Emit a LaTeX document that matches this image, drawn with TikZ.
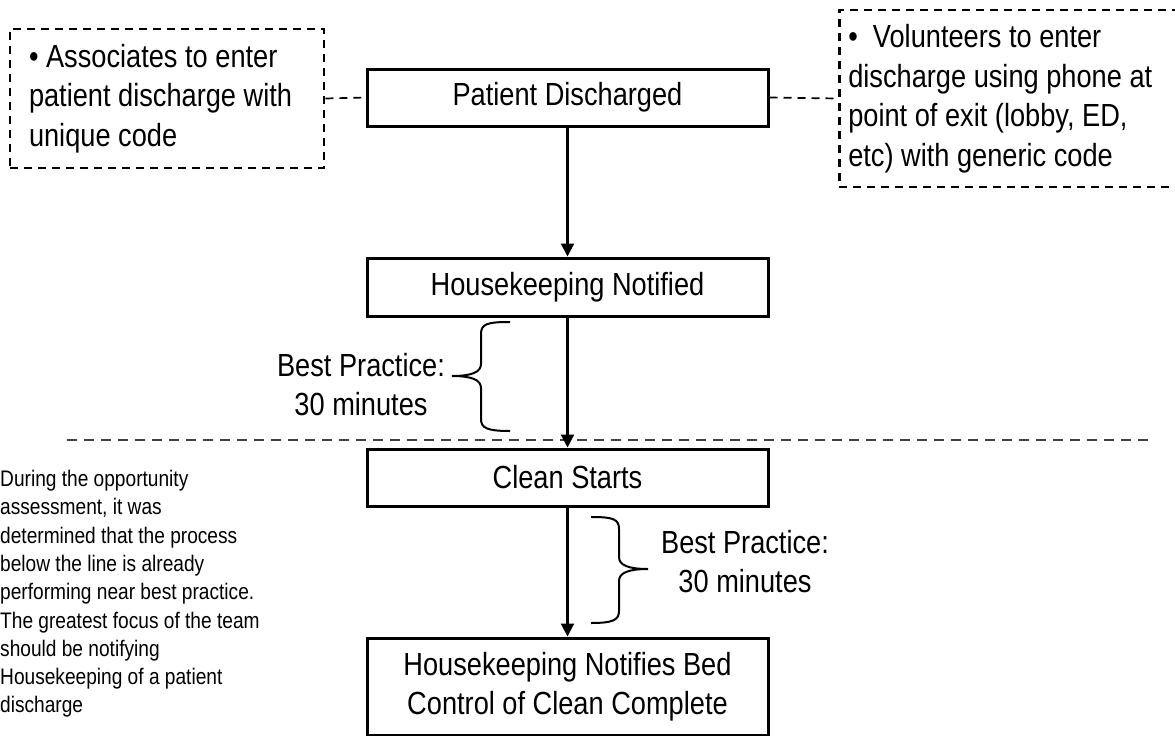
\documentclass[tikz,border=0pt]{standalone}
\usepackage{fontspec}
\setmainfont{Liberation Sans}[FakeStretch=0.85]
\usetikzlibrary{arrows.meta}
\protected\def\tightspace{\spaceskip=\fontdimen2\font\relax}

\begin{document}
\begin{tikzpicture}[x=1pt, y=-1pt,
  process/.style={draw, line width=3pt, minimum width=401pt, inner sep=0pt,
    align=center, font=\fontsize{32}{39}\selectfont},
  option/.style={draw, line width=2.6pt, dash pattern=on 8pt off 6pt,
    align=left, font=\fontsize{32}{39.5}\selectfont,
    execute at begin node=\tightspace},
  link/.style={line width=1.7pt, dash pattern=on 8pt off 6pt},
  flow/.style={line width=2.1pt, -{Triangle[length=13pt,width=13pt]}},
  bracket/.style={line width=2pt},
  divider/.style={line width=1.8pt, black!75, dash pattern=on 10pt off 7pt},
  note/.style={anchor=north west, inner sep=0pt, text width=290pt, align=left,
    font=\fontsize{22.5}{28.3}\selectfont, execute at begin node=\tightspace}]

\useasboundingbox (0,0) rectangle (1175,736);
\clip (0,0) rectangle (1175,736);

% Process steps
\node[process, minimum height=57pt] (disch) at (567.5,97.5) {Patient Discharged};
\node[process, minimum height=58pt] (hknote) at (567.5,287) {Housekeeping Notified};
\node[process, minimum height=57pt] (cleanst) at (567.5,477.5) {Clean Starts};
\node[process, minimum height=97pt] (bedctl) at (567.5,686.5) {Housekeeping Notifies Bed\\Control of Clean Complete};

% Ways to enter the discharge
\node[option, minimum width=314pt, minimum height=139pt, text width=276pt,
  inner xsep=19pt] (assoc) at (167,98.5)
  {\textbullet\ Associates to enter\\patient discharge with\\unique code};
\node[option, anchor=west, minimum height=177pt, text width=330pt,
  inner xsep=9pt] (volun) at (838,98.5)
  {\textbullet\ \ Volunteers to enter\\discharge using phone at\\point of exit (lobby, ED,\\etc) with generic code};

% Best practice times
\node[align=center, font=\fontsize{32}{39}\selectfont] (bpone) at (361,384.5) {Best Practice:\\30 minutes};
\node[align=center, font=\fontsize{32}{39}\selectfont] (bptwo) at (745,562) {Best Practice:\\30 minutes};

% Braces
\draw[bracket] (510,322) .. controls (487,322) and (481,324) .. (481,334) -- (481,364)
  .. controls (481,372) and (472,376) .. (452,376)
  .. controls (472,376) and (481,380) .. (481,388) -- (481,419)
  .. controls (481,428) and (487,431) .. (510,431);
\draw[bracket] (591,517) .. controls (613,517) and (619,519) .. (619,529) -- (619,557)
  .. controls (619,565) and (628,569) .. (648,569)
  .. controls (628,569) and (619,573) .. (619,581) -- (619,611)
  .. controls (619,620) and (613,623) .. (591,623);

% Dividing line
\coordinate (sepL) at (67,440);
\coordinate (sepR) at (1152,440);
\draw[divider] (sepL) -- (sepR);

% Note
\node[note] (remark) at (0,470) {During the opportunity\\assessment, it was\\determined that the process\\below the line is already\\performing near best practice.\\The greatest focus of the team\\should be notifying\\Housekeeping of a patient\\discharge};

% Arrows
\draw[flow] (disch) -- (hknote);
\draw[flow] (hknote) -- (cleanst);
\draw[flow] (cleanst) -- (bedctl);

% Dashed links
\draw[link] (assoc.east) -- (disch.west);
\draw[link] (disch.east) -- (volun.west);

\end{tikzpicture}
\end{document}
